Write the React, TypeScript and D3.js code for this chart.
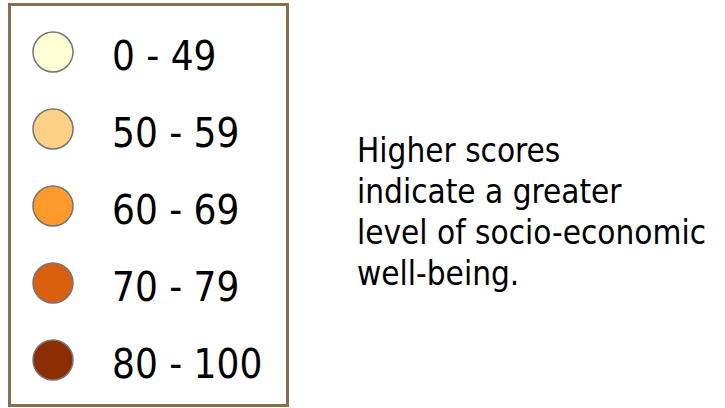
import React, { useEffect, useRef } from 'react';
import * as d3 from 'd3';

// legend classes (score ranges) and their fills
const categories: string[] = ['0 - 49', '50 - 59', '60 - 69', '70 - 79', '80 - 100'];
const colors: string[] = ['#ffffd6', '#fed084', '#fe9a2c', '#d95f0e', '#8c2d04'];
const noteLines: string[] = ['Higher scores', 'indicate a greater', 'level of socio-economic', 'well-being.'];

const width = 725;
const height = 408;
const font = '"DejaVu Sans Condensed", "DejaVu Sans", Tahoma, sans-serif';

const App: React.FC = () => {
  const svgRef = useRef<SVGSVGElement | null>(null);

  useEffect(() => {
    if (!svgRef.current) return;
    const svg = d3.select(svgRef.current);
    svg.selectAll('*').remove();

    // legend frame
    svg
      .append('rect')
      .attr('x', 9.5)
      .attr('y', 4.5)
      .attr('width', 278)
      .attr('height', 401)
      .attr('fill', 'white')
      .attr('stroke', '#86704b')
      .attr('stroke-width', 3);

    // baseline of each row label
    const yScale = d3.scalePoint<string>().domain(categories).range([70, 378]);
    const color = d3.scaleOrdinal<string, string>().domain(categories).range(colors);

    const rows = svg
      .selectAll('g.row')
      .data(categories)
      .enter()
      .append('g')
      .attr('class', 'row')
      .attr('transform', d => `translate(0,${yScale(d)})`);

    rows
      .append('circle')
      .attr('cx', 53)
      .attr('cy', -18)
      .attr('r', 20)
      .attr('fill', d => color(d))
      .attr('stroke', '#757575')
      .attr('stroke-width', 1.5);

    rows
      .append('text')
      .attr('x', 112)
      .attr('y', 0)
      .style('font-family', font)
      .style('font-size', '40px')
      .attr('fill', '#000')
      .text(d => d);

    // note on the right
    const note = svg
      .append('text')
      .attr('x', 357)
      .attr('y', 162)
      .style('font-family', font)
      .style('font-size', '33px')
      .attr('fill', '#000');

    note
      .selectAll('tspan')
      .data(noteLines)
      .enter()
      .append('tspan')
      .attr('x', 357)
      .attr('dy', (d, i) => (i === 0 ? 0 : 41))
      .text(d => d);
  }, []);

  return (
    <svg
      ref={svgRef}
      width={width}
      height={height}
      style={{ position: 'absolute', left: 0, top: 0, background: 'white' }}
    />
  );
};

export default App;
